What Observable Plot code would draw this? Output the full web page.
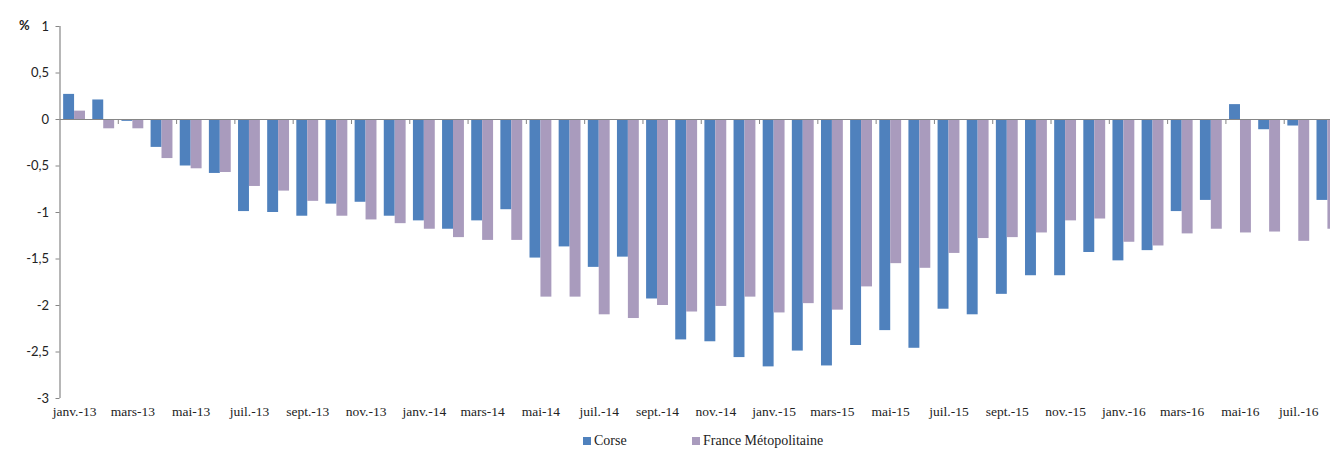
<!DOCTYPE html>
<html>
<head>
<meta charset="utf-8">
<script src="https://cdn.jsdelivr.net/npm/d3@7"></script>
<script src="https://cdn.jsdelivr.net/npm/@observablehq/plot@0.6"></script>
<style>
  html, body { margin: 0; padding: 0; background: #fff; overflow: hidden; }
  #chart svg { display: block; }
  #legend { position: relative; height: 18px; font-family: "Liberation Serif", serif; font-size: 14px; color: #222; }
  #legend .item { position: absolute; top: 1px; display: flex; align-items: center; white-space: nowrap; }
  #legend .sw { width: 8px; height: 8px; margin-right: 3px; }
</style>
</head>
<body>
<div id="chart"></div>
<div id="legend"></div>
<script>
// ---- data ----
const monthAbbr = ["janv.", "févr.", "mars", "avr.", "mai", "juin", "juil.", "août", "sept.", "oct.", "nov.", "déc."];
const years = ["13", "14", "15", "16"];
const months = [];
for (const y of years) for (const m of monthAbbr) months.push(`${m}-${y}`);
months.length = 44; // janv.-13 .. août-16

const series = ["Corse", "France Métopolitaine"];
const colors = ["#4F81BD", "#A99BBD"];

const corse = [0.27, 0.21, -0.02, -0.30, -0.50, -0.58, -0.99, -1.00, -1.04, -0.91,
  -0.89, -1.04, -1.09, -1.18, -1.09, -0.97, -1.49, -1.37, -1.59, -1.48,
  -1.93, -2.37, -2.39, -2.56, -2.66, -2.49, -2.65, -2.43, -2.27, -2.46,
  -2.04, -2.10, -1.88, -1.68, -1.68, -1.43, -1.52, -1.41, -0.99, -0.87,
  0.16, -0.11, -0.07, -0.87];
const france = [0.09, -0.10, -0.10, -0.42, -0.53, -0.57, -0.72, -0.77, -0.88, -1.04,
  -1.08, -1.12, -1.18, -1.27, -1.30, -1.30, -1.91, -1.91, -2.10, -2.14,
  -2.00, -2.07, -2.01, -1.91, -2.08, -1.98, -2.05, -1.80, -1.55, -1.60,
  -1.44, -1.28, -1.27, -1.22, -1.09, -1.07, -1.32, -1.36, -1.23, -1.18,
  -1.22, -1.21, -1.31, -1.18];
const yTicks = [1, 0.5, 0, -0.5, -1, -1.5, -2, -2.5, -3];

// ---- layout ----
const width = 1330, height = 432;
const marginLeft = 59.5, marginTop = 26, marginBottom = 34;
const xRight = 1342; // the last category runs past the picture's right edge
const paddingInner = 0.25, paddingOuter = 0.125;
const step = (xRight - marginLeft) / (months.length - paddingInner + 2 * paddingOuter);
const bw = step * (1 - paddingInner);
const pxPerUnit = (height - marginTop - marginBottom) / (yTicks[0] - yTicks[yTicks.length - 1]);
const axisColor = "#868686";

const rowsCorse = months.map((m, i) => ({month: m, value: corse[i]}));
const rowsFrance = months.map((m, i) => ({month: m, value: france[i]}));
const boundaryMonths = months.filter((m, i) => i % 2 === 0 && i > 0);

const plot = Plot.plot({
  width, height, marginLeft, marginRight: 0, marginTop, marginBottom,
  style: {fontFamily: "Lato, sans-serif", fontSize: "13px", color: "#222", overflow: "hidden"},
  x: {domain: months, range: [marginLeft, xRight], round: false, paddingInner, paddingOuter, label: null, axis: null},
  y: {domain: [yTicks[yTicks.length - 1], yTicks[0]], label: null, axis: null},
  marks: [
    Plot.barY(rowsCorse, {x: "month", y: "value", fill: colors[0], insetRight: bw / 2}),
    Plot.barY(rowsFrance, {x: "month", y: "value", fill: colors[1], insetLeft: bw / 2}),
    Plot.ruleY([0], {stroke: axisColor, strokeWidth: 1.2}),
    Plot.ruleX([months[0]], {y1: yTicks[0], y2: yTicks[yTicks.length - 1], dx: -step / 2, stroke: axisColor, strokeWidth: 1.2}),
    Plot.ruleX(boundaryMonths, {x: d => d, y1: 0, y2: -5 / pxPerUnit, dx: -step / 2, stroke: axisColor}),
    Plot.axisY({ticks: yTicks, tickSize: 4, tickPadding: 7, stroke: axisColor,
      tickFormat: d => String(d).replace(".", ","), fontFamily: "Lato, sans-serif", fontSize: 13}),
    Plot.axisX({anchor: "bottom", tickSize: 0, tickPadding: 8,
      tickFormat: (d) => months.indexOf(d) % 2 === 0 ? d : "",
      fontFamily: "Liberation Serif, serif", fontSize: 13.5}),
    Plot.text(["%"], {frameAnchor: "top-left", text: d => d, dx: -41, dy: -6, fontWeight: "bold", fontSize: 13, fontFamily: "Lato, sans-serif"})
  ]
});
document.getElementById("chart").appendChild(plot);

// ---- legend ----
const legend = document.getElementById("legend");
const legendX = [583, 692];
series.forEach((s, i) => {
  const item = document.createElement("div");
  item.className = "item";
  item.style.left = legendX[i] + "px";
  const sw = document.createElement("span");
  sw.className = "sw";
  sw.style.background = colors[i];
  const t = document.createElement("span");
  t.textContent = s;
  item.appendChild(sw);
  item.appendChild(t);
  legend.appendChild(item);
});
</script>
</body>
</html>
